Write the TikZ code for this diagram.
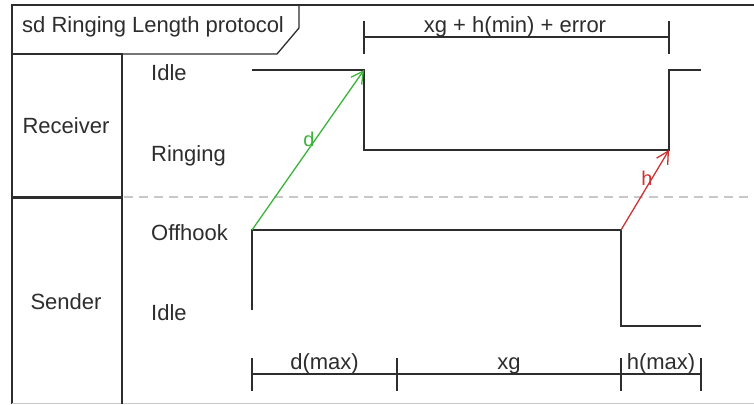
\documentclass[tikz,border=0pt]{standalone}
\usepackage{fontspec}
\setmainfont{Liberation Sans}
\usetikzlibrary{arrows.meta}
\definecolor{ink}{RGB}{45,45,45}
\definecolor{sigdelay}{RGB}{60,180,60}
\definecolor{sighold}{RGB}{205,50,50}
\definecolor{divider}{RGB}{200,200,200}
\tikzset{
  frameline/.style={draw=ink, line width=1.3bp},
  wave/.style={draw=ink, line width=1.6bp},
  dimline/.style={draw=ink, line width=1.3bp},
  label/.style={font=\fontsize{22bp}{26bp}\selectfont, text=ink, inner sep=0pt},
  msglabel/.style={font=\fontsize{20bp}{24bp}\selectfont, inner sep=0pt},
  message/.style={line width=1.3bp, -{Straight Barb[length=12bp,width=13bp,line width=1.3bp]}},
}
\begin{document}
\begin{tikzpicture}[x=1bp, y=-1bp]
\useasboundingbox (0,0) rectangle (754,404);
\fill[white] (0,0) rectangle (754,404);

% outer frame and title tab
\draw[frameline] (754,5) -- (12,5) -- (12,404);
\draw[draw=divider, line width=1bp] (12,403.3) -- (754,403.3);
\draw[frameline] (12,54) -- (277,54) -- (299,28) -- (299,5);
\node[label, anchor=base west] (title) at (22,32) {sd Ringing Length protocol};

% lifeline heads
\draw[frameline] (12,54) -- (122,54) -- (122,404);
\draw[draw=ink, line width=3bp] (12,197) -- (122,197);
\draw[draw=divider, line width=1.2bp, dash pattern=on 9bp off 6bp] (124,197) -- (754,197);
\node[label, anchor=base] (receiver) at (66,133) {Receiver};
\node[label, anchor=base] (sender) at (66,309) {Sender};

% state names
\node[label, anchor=base west] (ridle) at (151,80) {Idle};
\node[label, anchor=base west] (rring) at (151,161) {Ringing};
\node[label, anchor=base west] (soff) at (151,240) {Offhook};
\node[label, anchor=base west] (sidle) at (151,320) {Idle};

% receiver timeline
\coordinate (r0) at (252,70);
\coordinate (r1) at (364,70);
\coordinate (r2) at (364,150);
\coordinate (r3) at (669,150);
\coordinate (r4) at (669,70);
\coordinate (r5) at (701,70);
\draw[wave] (r0) -- (r1) -- (r2) -- (r3) -- (r4) -- (r5);

% sender timeline
\coordinate (s0) at (252,310);
\coordinate (s1) at (252,230);
\coordinate (s2) at (621,230);
\coordinate (s3) at (621,326);
\coordinate (s4) at (701,326);
\draw[wave] (s0) -- (s1) -- (s2) -- (s3) -- (s4);

% messages
\draw[message, sigdelay] (s1) -- (r1);
\node[msglabel, text=sigdelay, anchor=base] (dlab) at (309,146) {d};
\draw[message, sighold] (s2) -- (r3);
\node[msglabel, text=sighold, anchor=base] (hlab) at (647,185) {h};

% top duration constraint
\coordinate (ta) at (364,37);
\coordinate (tb) at (669,37);
\draw[dimline] (ta) -- (tb);
\draw[dimline] (364,21) -- (364,54);
\draw[dimline] (669,21) -- (669,54);
\node[label, anchor=base] (tlab) at (515,32) {xg + h(min) + error};

% bottom duration constraints
\coordinate (b0) at (252,374);
\coordinate (b1) at (397,374);
\coordinate (b2) at (621,374);
\coordinate (b3) at (701,374);
\draw[dimline] (b0) -- (b1) -- (b2) -- (b3);
\foreach \x in {252,397,621,701}
  \draw[dimline] (\x,358) -- (\x,391);
\node[label, anchor=base] (dmax) at (324.5,369) {d(max)};
\node[label, anchor=base] (xg) at (509,369) {xg};
\node[label, anchor=base] (hmax) at (661,369) {h(max)};
\end{tikzpicture}
\end{document}
